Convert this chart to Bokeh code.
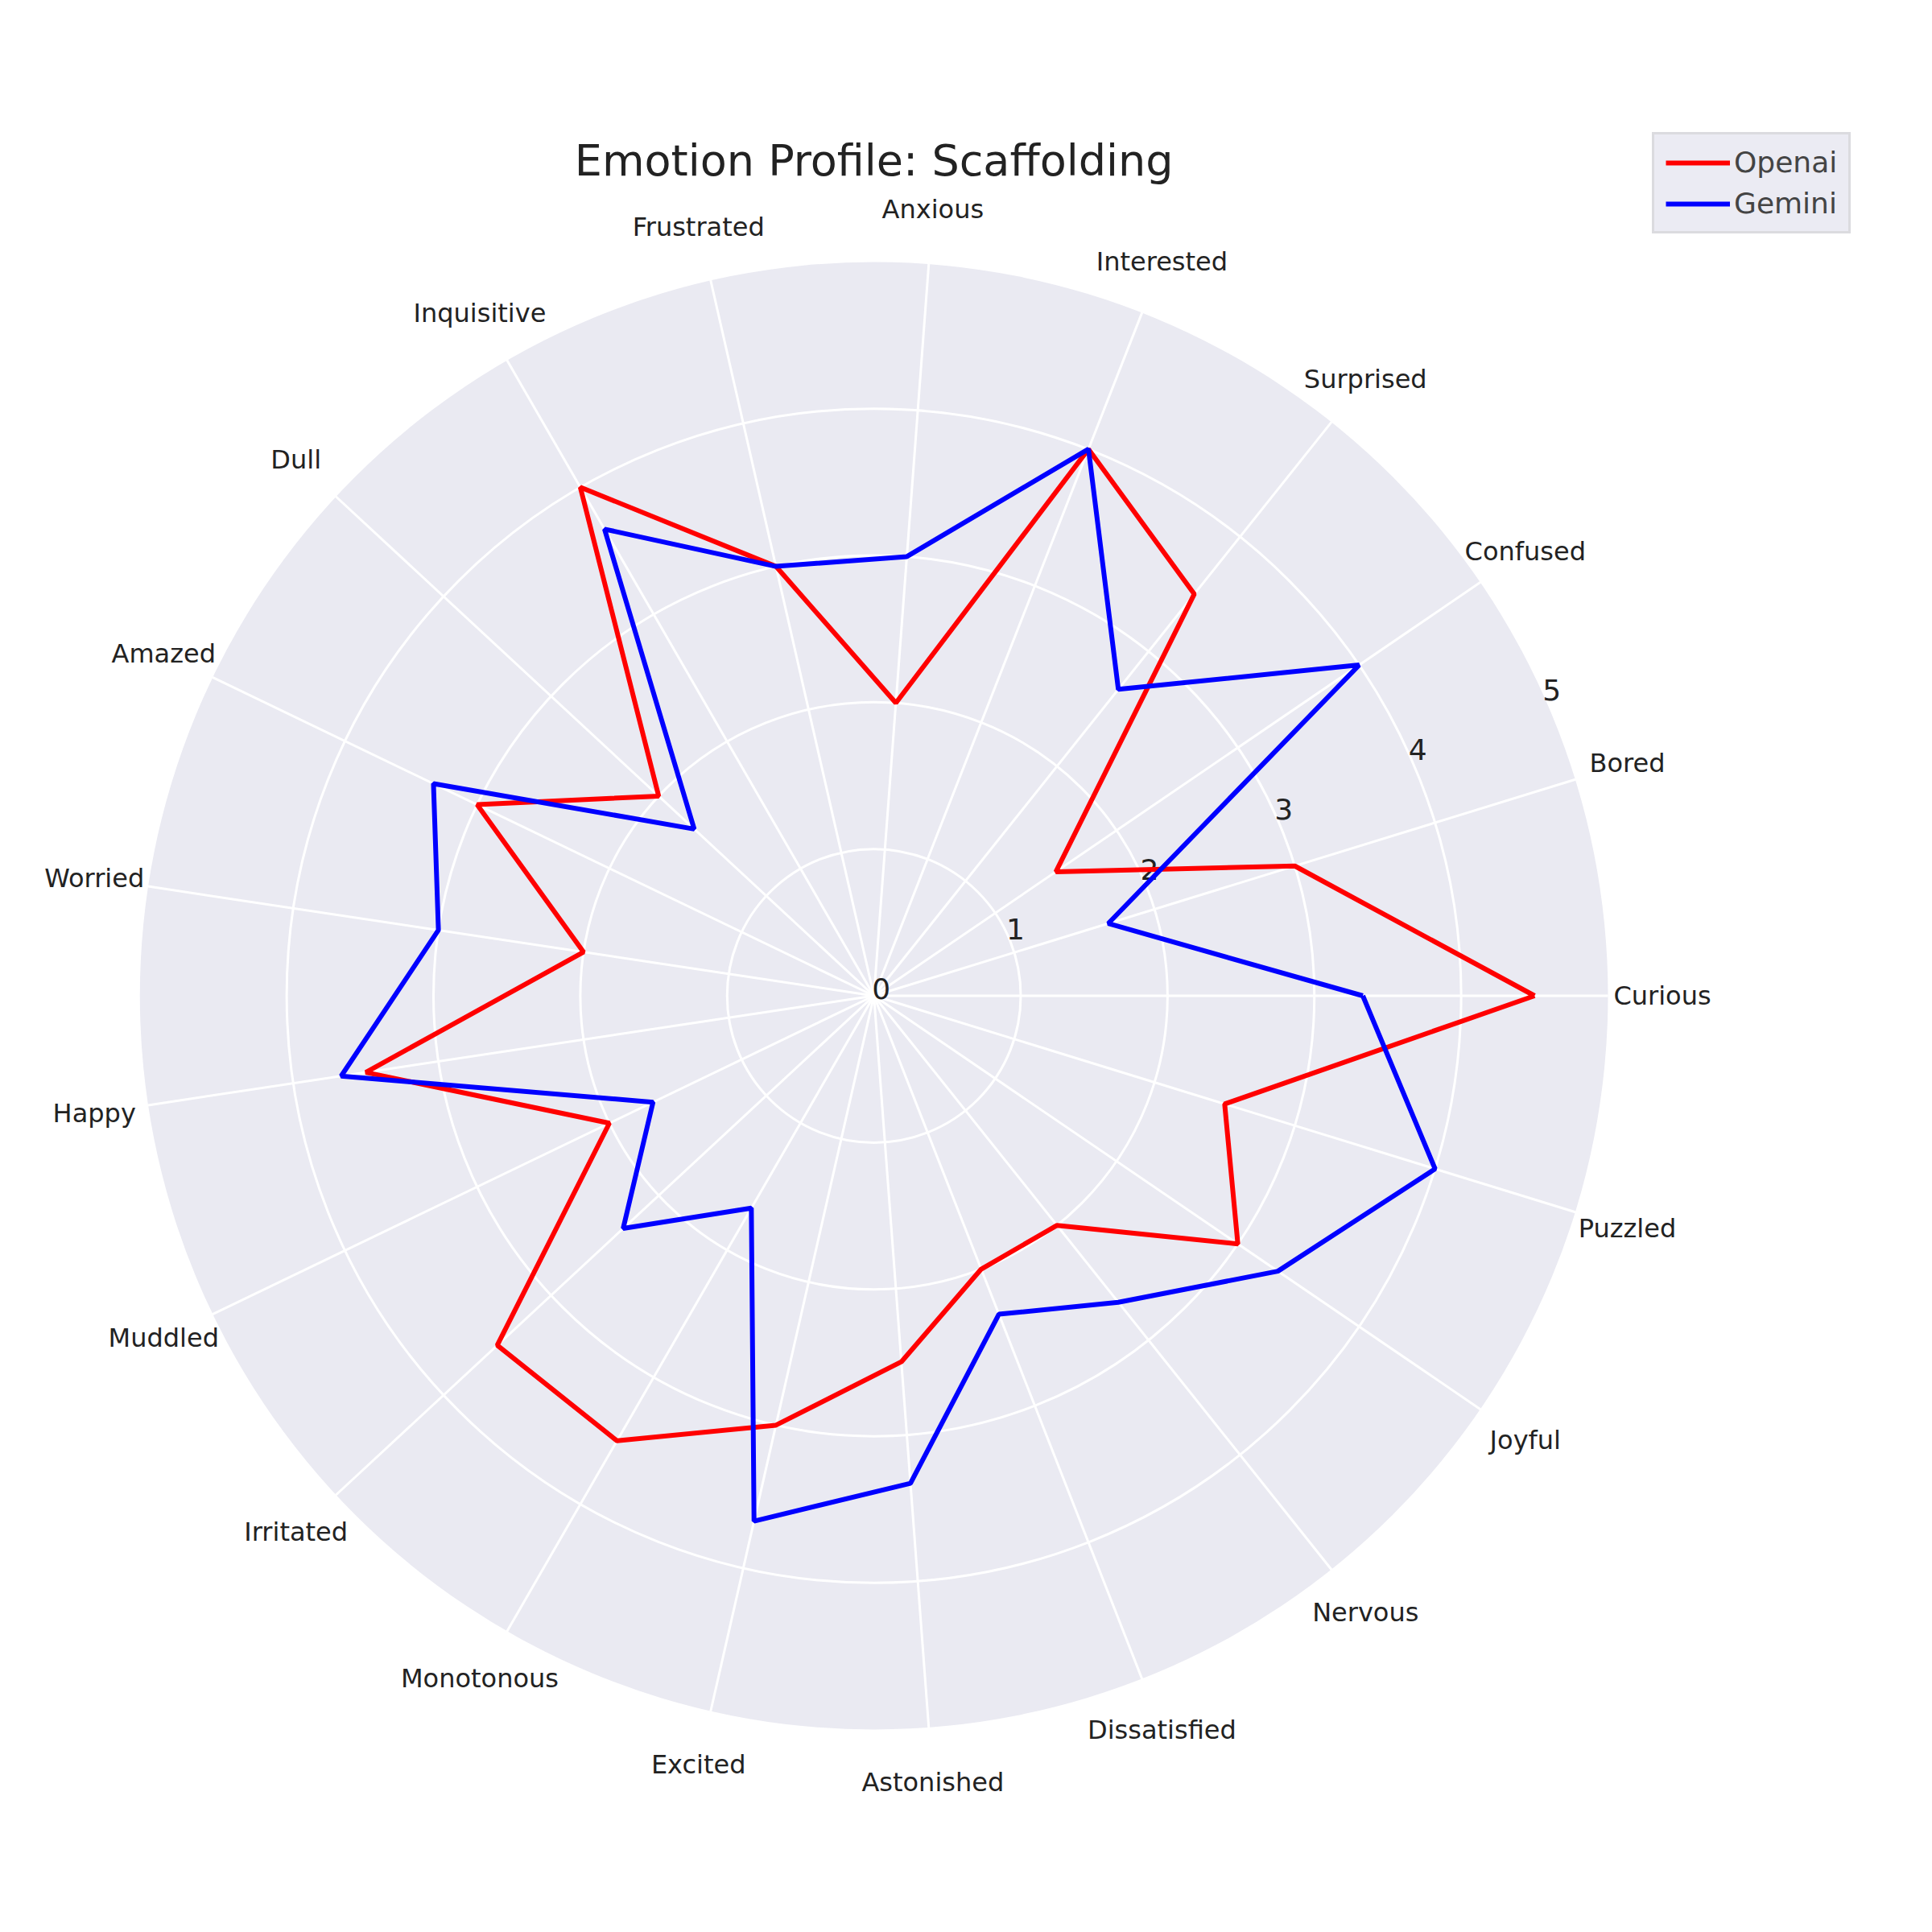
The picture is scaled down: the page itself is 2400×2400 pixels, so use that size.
import numpy as np
from bokeh.plotting import figure
from bokeh.models import Legend, LegendItem
from bokeh.core.properties import value
from bokeh.embed import file_html
from bokeh.resources import INLINE

categories = ["Curious", "Bored", "Confused", "Surprised", "Interested", "Anxious",
              "Frustrated", "Inquisitive", "Dull", "Amazed", "Worried", "Happy",
              "Muddled", "Irritated", "Monotonous", "Excited", "Astonished",
              "Dissatisfied", "Nervous", "Joyful", "Puzzled"]
openai = [4.5, 3.0, 1.5, 3.5, 4.0, 2.0, 3.0, 4.0, 2.0, 3.0, 2.0, 3.5,
          2.0, 3.5, 3.5, 3.0, 2.5, 2.0, 2.0, 3.0, 2.5]
gemini = [3.33, 1.67, 4.0, 2.67, 4.0, 3.0, 3.0, 3.67, 1.67, 3.33, 3.0, 3.67,
          1.67, 2.33, 1.67, 3.67, 3.33, 2.33, 2.67, 3.33, 4.0]
ticks = [0, 1, 2, 3, 4, 5]

FONT = value("DejaVu Sans")
W = H = 2380
n = len(categories)
ang = np.arange(n) * 2 * np.pi / n

p = figure(width=W, height=H, x_range=(-5.95, 7.1), y_range=(-6.27, 6.78),
           output_backend="svg", toolbar_location=None, min_border=0)
p.axis.visible = False
p.grid.visible = False
p.outline_line_color = None
p.background_fill_color = "white"

p.ellipse(0, 0, width=10, height=10, fill_color="#EAEAF2", line_color=None)
for t in ticks[1:-1]:
    p.ellipse(0, 0, width=2 * t, height=2 * t, fill_color=None, line_color="white", line_width=3)
p.segment(0, 0, 5 * np.cos(ang), 5 * np.sin(ang), line_color="white", line_width=3)

# category labels
lr = 5.37
p.text(lr * np.cos(ang), lr * np.sin(ang), text=categories, text_align="center",
       text_baseline="middle", text_font=FONT, text_font_size="32px", text_color="#222222")

# radial tick labels
ta = np.deg2rad(24)
p.text([t * np.cos(ta) + 0.05 for t in ticks], [t * np.sin(ta) + 0.05 for t in ticks],
       text=[str(t) for t in ticks], text_align="center", text_baseline="middle",
       text_font=FONT, text_font_size="36px", text_color="#222222")

def closed(vals):
    r = np.array(vals + vals[:1])
    a = np.append(ang, ang[0])
    return r * np.cos(a), r * np.sin(a)

xo, yo = closed(openai)
xg, yg = closed(gemini)
lo = p.line(xo, yo, line_color="red", line_width=6)
lg = p.line(xg, yg, line_color="blue", line_width=6)

p.text([0], [5.69], text=["Emotion Profile: Scaffolding"], text_align="center",
       text_baseline="middle", text_font=FONT, text_font_size="54px", text_color="#222222")

legend = Legend(items=[LegendItem(label="Openai", renderers=[lo]),
                       LegendItem(label="Gemini", renderers=[lg])],
                location=(2052, 2090), label_text_font="DejaVu Sans",
                label_text_font_size="36px", background_fill_color="#EAEAF2",
                border_line_color="#CCCCCC", border_line_width=3,
                glyph_width=80, glyph_height=40, spacing=10, padding=14)
p.add_layout(legend)

open("out.html", "w").write(file_html(p, INLINE))
